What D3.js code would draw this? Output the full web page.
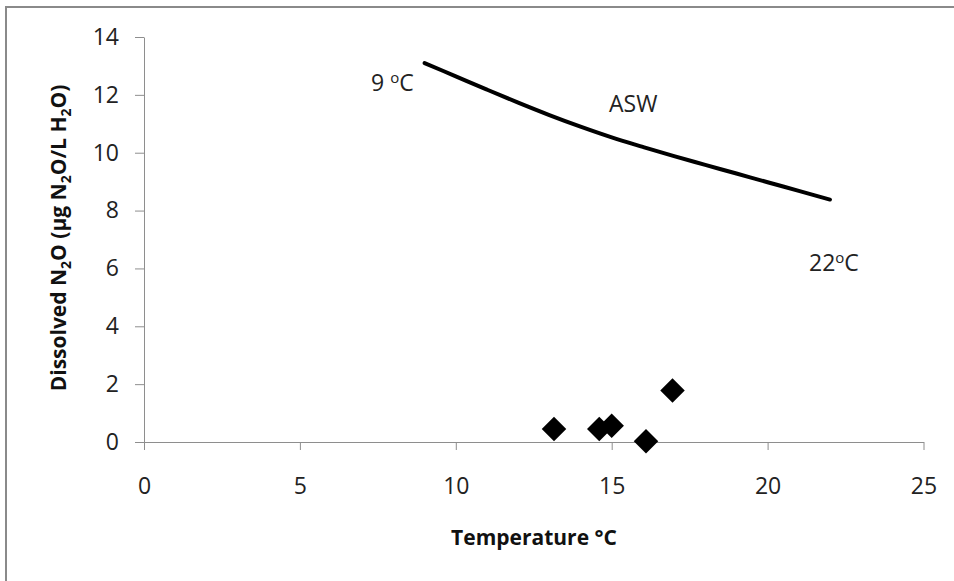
<!DOCTYPE html>
<html>
<head>
<meta charset="utf-8">
<script src="https://cdn.jsdelivr.net/npm/d3@7"></script>
<style>
  body { margin: 0; background: #fff; }
  svg { display: block; }
  .tick text { font-family: "Open Sans", sans-serif; font-size: 23px; fill: #222; }
</style>
</head>
<body>
<div id="chart"></div>
<script>
// ASW solubility curve (temperature °C -> ug N2O / L H2O)
var aswTemp = [9, 10, 11, 12, 13, 14, 15, 16, 17, 18, 19, 20, 21, 22];
var aswN2O = [13.1, 12.64, 12.18, 11.73, 11.3, 10.9, 10.53, 10.2, 9.88, 9.58, 9.28, 8.98, 8.68, 8.38];

// measured samples
var sampleTemp = [13.15, 14.6, 15.0, 16.1, 16.95];
var sampleN2O = [0.45, 0.45, 0.56, 0.03, 1.78];

var xTicks = [0, 5, 10, 15, 20, 25];
var yTicks = [0, 2, 4, 6, 8, 10, 12, 14];

const width = 954, height = 581;
const axisColor = '#8e8e8e';

const svg = d3.select('#chart').append('svg')
  .attr('width', width)
  .attr('height', height);

// outer chart frame (only top/left edges fall inside the picture)
svg.append('rect')
  .attr('x', 6).attr('y', 7)
  .attr('width', 1000).attr('height', 1000)
  .attr('fill', 'none')
  .attr('stroke', '#8a8a8a')
  .attr('stroke-width', 2);

const x = d3.scaleLinear().domain([0, 25]).range([144, 923.5]);
const y = d3.scaleLinear().domain([0, 14]).range([442, 37]);

const xAxis = svg.append('g')
  .attr('transform', `translate(0,${y(0)})`)
  .call(d3.axisBottom(x).tickValues(xTicks).tickSize(8).tickPadding(28).tickSizeOuter(0));

const yAxis = svg.append('g')
  .attr('transform', `translate(${x(0)},0)`)
  .call(d3.axisLeft(y).tickValues(yTicks).tickSize(9).tickPadding(16).tickSizeOuter(0));

[xAxis, yAxis].forEach(g => {
  g.select('.domain').attr('stroke', axisColor);
  g.selectAll('.tick line').attr('stroke', axisColor);
});

// ASW line
const line = d3.line()
  .x((d, i) => x(aswTemp[i]))
  .y(d => y(d))
  .curve(d3.curveMonotoneX);

svg.append('path')
  .datum(aswN2O)
  .attr('d', line)
  .attr('fill', 'none')
  .attr('stroke', '#000')
  .attr('stroke-width', 4)
  .attr('stroke-linecap', 'round');

// diamonds
const diamond = d3.symbol().type(d3.symbolSquare).size(300);
svg.selectAll('path.pt')
  .data(sampleN2O)
  .join('path')
  .attr('class', 'pt')
  .attr('d', diamond)
  .attr('transform', (d, i) => `translate(${x(sampleTemp[i])},${y(d)}) rotate(45)`)
  .attr('fill', '#000');

// annotations
const font = '"Open Sans", sans-serif';
function degLabel(px, py, pre) {
  const t = svg.append('text')
    .attr('x', px).attr('y', py)
    .attr('font-family', font).attr('font-size', 23).attr('fill', '#222');
  t.append('tspan').text(pre);
  t.append('tspan').attr('font-size', 15).attr('dy', -8).text('o');
  t.append('tspan').attr('dy', 8).text('C');
}
degLabel(371, 91, '9 ');
degLabel(809, 271, '22');

svg.append('text')
  .attr('x', 609).attr('y', 112)
  .attr('font-family', font).attr('font-size', 23).attr('fill', '#222')
  .text('ASW');

// axis titles
svg.append('text')
  .attr('x', 534).attr('y', 545)
  .attr('text-anchor', 'middle')
  .attr('font-family', font).attr('font-size', 21).attr('font-weight', 'bold').attr('fill', '#111')
  .text('Temperature °C');

const yl = svg.append('text')
  .attr('transform', 'translate(66,238) rotate(-90)')
  .attr('text-anchor', 'middle')
  .attr('font-family', font).attr('font-size', 21).attr('font-weight', 'bold').attr('fill', '#111');
yl.append('tspan').text('Dissolved N');
yl.append('tspan').attr('font-size', 14).attr('dy', 5).text('2');
yl.append('tspan').attr('dy', -5).text('O (µg N');
yl.append('tspan').attr('font-size', 14).attr('dy', 5).text('2');
yl.append('tspan').attr('dy', -5).text('O/L H');
yl.append('tspan').attr('font-size', 14).attr('dy', 5).text('2');
yl.append('tspan').attr('dy', -5).text('O)');
</script>
</body>
</html>
